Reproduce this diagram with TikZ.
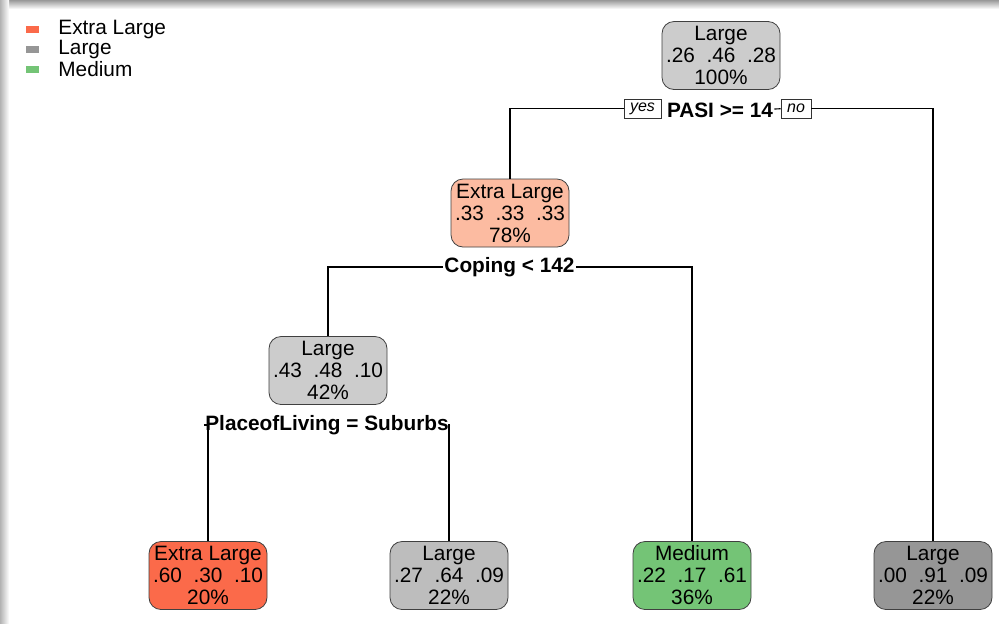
\documentclass[tikz,border=0pt]{standalone}
\usepackage{fontspec}
\setmainfont{Liberation Sans}
\usetikzlibrary{positioning}
\definecolor{xlcol}{HTML}{FB6A4A}
\definecolor{xlpale}{HTML}{FCBBA1}
\definecolor{lgcol}{HTML}{969696}
\definecolor{lgpale}{HTML}{CCCCCC}
\definecolor{lgmid}{HTML}{BDBDBD}
\definecolor{mdcol}{HTML}{74C476}
\tikzstyle{leaf} = [rectangle, rounded corners=6pt, draw=black!75, align=center, text centered, minimum width=59pt, minimum height=34pt, inner sep=0pt, font=\fontsize{10.4}{11}\selectfont]
\tikzstyle{split} = [fill=white, inner sep=0.5pt, font=\bfseries\fontsize{10.4}{11}\selectfont]
\tikzstyle{yn} = [draw=black!80, fill=white, inner xsep=3pt, inner ysep=0pt, minimum height=9.5pt, font=\itshape\fontsize{8}{9}\selectfont]
\tikzstyle{key} = [rectangle, minimum width=6.5pt, minimum height=3.5pt, inner sep=0pt]
\tikzstyle{keytext} = [anchor=west, inner sep=0pt, font=\fontsize{10.4}{11}\selectfont]
\tikzstyle{wire} = [line width=0.6pt, black]

\begin{document}
\begin{tikzpicture}[x=0.5pt, y=-0.5pt]
    \useasboundingbox (0,0) rectangle (999,623);
    \fill[white] (0,0) rectangle (999,623);
    \shade[top color=black!40, bottom color=white] (0,0) rectangle (999,9);
    \shade[left color=black!30, right color=white] (0,0) rectangle (9,623);
    % legend
    \node (kXL) [key, fill=xlcol] at (32.5,29.5) {};
    \node (kLG) [key, fill=lgcol] at (32.5,49.5) {};
    \node (kMD) [key, fill=mdcol] at (32.5,69.5) {};
    \node (tXL) [keytext] at (58,29.5) {Extra Large};
    \node (tLG) [keytext] at (58,49.5) {Large};
    \node (tMD) [keytext] at (58,69.5) {Medium};
    % tree nodes
    \node (root) [leaf, fill=lgpale] at (721,55.5) {Large\\.26\ \ .46\ \ .28\\100\%};
    \node (nXL78) [leaf, fill=xlpale] at (510,213) {Extra Large\\.33\ \ .33\ \ .33\\78\%};
    \node (nLG42) [leaf, fill=lgpale] at (328,370.5) {Large\\.43\ \ .48\ \ .10\\42\%};
    \node (nXL20) [leaf, fill=xlcol] at (208,575.5) {Extra Large\\.60\ \ .30\ \ .10\\20\%};
    \node (nLG22a) [leaf, fill=lgmid] at (449,575.5) {Large\\.27\ \ .64\ \ .09\\22\%};
    \node (nMD36) [leaf, fill=mdcol] at (692,575.5) {Medium\\.22\ \ .17\ \ .61\\36\%};
    \node (nLG22b) [leaf, fill=lgcol] at (933,575.5) {Large\\.00\ \ .91\ \ .09\\22\%};
    % splits
    \node (pasi) [split] at (720,110) {PASI >= 14};
    \node (yes) [yn] at (642.5,108.5) {yes};
    \node (no) [yn] at (796,108.5) {no};
    \node (coping) [split] at (509.5,267) {Coping < 142};
    \node (place) [split] at (327,425) {PlaceofLiving = Suburbs};
    \draw[wire] (pasi) -- (no);
    \draw[wire] (yes) -| (nXL78);
    \draw[wire] (no) -| (nLG22b);
    \draw[wire] (coping) -| (nLG42);
    \draw[wire] (coping) -| (nMD36);
    \draw[wire] (place) -| (nXL20);
    \draw[wire] (place) -| (nLG22a);
\end{tikzpicture}
\end{document}
